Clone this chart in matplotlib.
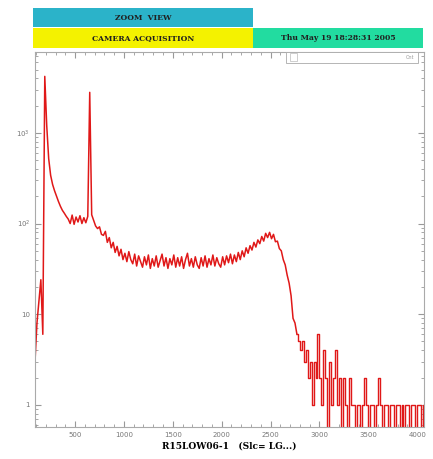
import numpy as np
import matplotlib
matplotlib.use("Agg")
import matplotlib.pyplot as plt
from matplotlib.patches import Rectangle
from matplotlib.ticker import FixedLocator, FixedFormatter, MultipleLocator

# header texts
title_top = "ZOOM  VIEW"
title_left = "CAMERA ACQUISITION"
title_date = "Thu May 19 18:28:31 2005"
x_label = "R15LOW06-1   (Slc= LG...)"

# spectrum: counts per 20-channel bin, first bin at channel 90
first_channel = 90
bin_width = 20
counts = [
    3, 8, 14, 24, 6, 4200, 1200, 520, 340, 270,          # 90 - 270
    230, 200, 175, 155, 140, 130, 120, 112, 100, 124,     # 290 - 470
    98, 118, 104, 122, 100, 116, 102, 120, 2800, 125,     # 490 - 670
    108, 94, 88, 92, 76, 74, 82, 62, 70, 54,              # 690 - 870
    62, 48, 56, 44, 52, 40, 47, 38, 49, 40,               # 890 - 1070
    36, 46, 34, 44, 38, 33, 43, 35, 45, 32,               # 1090 - 1270
    41, 34, 44, 33, 39, 46, 34, 42, 32, 41,               # 1290 - 1470
    35, 45, 33, 42, 34, 43, 32, 40, 47, 34,               # 1490 - 1670
    41, 33, 43, 35, 32, 42, 34, 44, 33, 41,               # 1690 - 1870
    35, 45, 34, 42, 36, 33, 43, 35, 44, 37,               # 1890 - 2070
    46, 36, 45, 38, 48, 40, 50, 43, 54, 47,               # 2090 - 2270
    57, 51, 62, 55, 66, 60, 72, 64, 78, 70,               # 2290 - 2470
    80, 68, 76, 63, 64, 53, 50, 40, 35, 27,               # 2490 - 2670
    22, 16, 9, 8, 6, 5, 4, 5, 3, 4,                       # 2690 - 2870
    2, 3, 1, 3, 2, 6, 2, 1, 4, 2,                         # 2890 - 3070
    0, 3, 1, 2, 4, 1, 2, 0, 2, 1,                         # 3090 - 3270
    0, 2, 1, 1, 0, 1, 1, 0, 1, 2,                         # 3290 - 3470
    1, 0, 1, 1, 0, 1, 2, 1, 0, 1,                         # 3490 - 3670
    1, 0, 1, 1, 0, 1, 1, 0, 1, 0,                         # 3690 - 3870
    1, 1, 0, 1, 1, 0, 1, 1, 0, 1,                         # 3890 - 4070
]
channels = first_channel + bin_width * np.arange(len(counts))
tail_start = 2770  # low-count tail drawn as histogram steps

x_ticks = [500, 1000, 1500, 2000, 2500, 3000, 3500, 4000]
y_ticks = [1, 10, 100, 1000]
y_tick_labels = ["1", "10", r"$10^2$", r"$10^3$"]

W, H = 433, 459
fig = plt.figure(figsize=(W / 100, H / 100), dpi=100)

def fx(px):
    return px / W

def fy(py):
    return 1 - py / H

# header boxes
boxes = [
    (33, 8, 253, 27, "#2bb3c9", title_top),
    (33, 28, 253, 48, "#f4f200", title_left),
    (253, 28, 423, 48, "#22dca0", title_date),
]
for x0, y0, x1, y1, col, txt in boxes:
    fig.patches.append(Rectangle((fx(x0), fy(y1)), fx(x1) - fx(x0), fy(y0) - fy(y1),
                                 transform=fig.transFigure, facecolor=col, edgecolor="none"))
    fig.text((fx(x0) + fx(x1)) / 2, (fy(y0) + fy(y1)) / 2, txt, ha="center", va="center",
             fontsize=5.5, fontweight="bold", family="DejaVu Serif", color="#202020")

ax = fig.add_axes([fx(35), fy(427), fx(424) - fx(35), fy(52) - fy(427)])
counts = np.array(counts)
head = channels <= tail_start
tail = channels >= tail_start
ax.plot(channels[head], counts[head], color="#e01818", lw=1.1)
ax.plot(channels[tail], counts[tail], color="#e01818", lw=1.0, drawstyle="steps-mid")
ax.set_yscale("log")
ax.set_xlim(90, 4070)
ax.set_ylim(0.57, 7800)

ax.xaxis.set_major_locator(FixedLocator(x_ticks))
ax.xaxis.set_minor_locator(MultipleLocator(100))
ax.yaxis.set_major_locator(FixedLocator(y_ticks))
ax.yaxis.set_major_formatter(FixedFormatter(y_tick_labels))
ax.tick_params(which="both", direction="in", top=True, right=True, colors="#999999",
               labelcolor="#777777", labelsize=5)
ax.tick_params(which="major", length=4)
ax.tick_params(which="minor", length=2)
for s in ax.spines.values():
    s.set_color("#aaaaaa")
    s.set_linewidth(0.8)

ax.set_xlabel(x_label, fontsize=6.5, fontweight="bold", family="DejaVu Serif", labelpad=3)

# small legend box in the upper right corner
ax.add_patch(Rectangle((0.645, 0.972), 0.34, 0.028, transform=ax.transAxes,
                       facecolor="white", edgecolor="#aaaaaa", lw=0.6, zorder=5))
ax.add_patch(Rectangle((0.655, 0.976), 0.018, 0.02, transform=ax.transAxes,
                       facecolor="white", edgecolor="#bbbbbb", lw=0.5, zorder=6))
ax.text(0.975, 0.986, "Cnt", transform=ax.transAxes, ha="right", va="center",
        fontsize=3.5, color="#999999", zorder=6)

fig.savefig("out.png", dpi=100)
